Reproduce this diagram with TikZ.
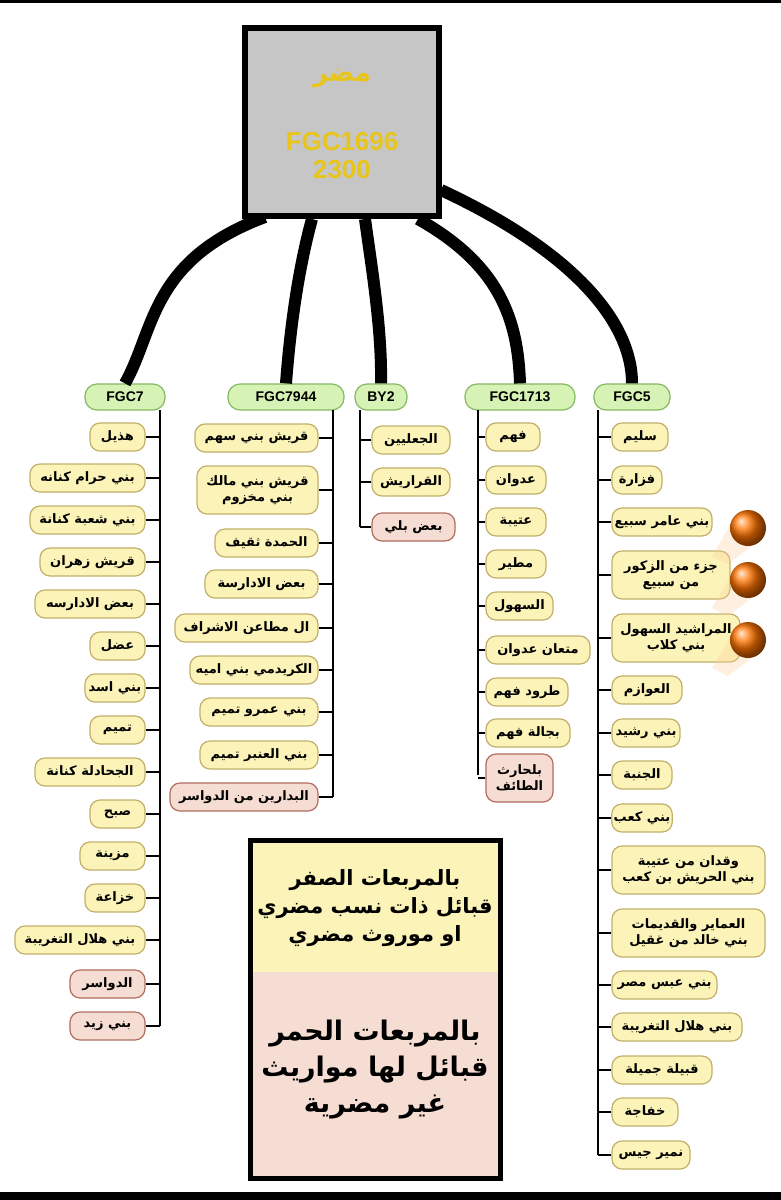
\documentclass[tikz,border=0pt]{standalone}
\usepackage{fontspec}
\newfontfamily\arabicfont[Script=Arabic]{DejaVu Sans}
\setmainfont{Liberation Sans}
\TeXXeTstate=1
\newcommand\ar[1]{{\arabicfont\bfseries\beginR #1\endR}}
\definecolor{yfill}{HTML}{FBF3B8}
\definecolor{ydraw}{HTML}{C2B06A}
\definecolor{rfill}{HTML}{F6DDD3}
\definecolor{rdraw}{HTML}{B06D60}
\definecolor{gfill}{HTML}{D6F2B4}
\definecolor{gdraw}{HTML}{86B864}
\definecolor{gold}{HTML}{E8C51A}
\newcommand\itm[6]{\node[#6, minimum width={(#3-#2)*0.5pt}] (#1) at ({(#2+#3)/2},#4) {#5};}
\begin{document}
\begin{tikzpicture}[x=0.5pt,y=-0.5pt,
  base/.style={rounded corners=5pt, line width=0.6pt, inner sep=1pt, minimum height=14pt, align=center, font=\fontsize{6.5}{8}\selectfont},
  yi/.style={base, fill=yfill, draw=ydraw},
  ri/.style={base, fill=rfill, draw=rdraw},
  yi2/.style={yi, minimum height=24pt},
  ri2/.style={ri, minimum height=24pt},
  hd/.style={rounded corners=6pt, fill=gfill, draw=gdraw, line width=0.6pt, minimum height=13pt, font=\fontsize{7}{8}\selectfont\bfseries},
  trunk/.style={line width=1.3pt},
  stub/.style={line width=1.1pt},
  thick6/.style={line width=6pt},
  goldtxt/.style={text=gold, align=center}]
\useasboundingbox (0,0) rectangle (781,1200);
\fill[white] (0,0) rectangle (781,1200);
\fill[black] (0,0) rectangle (781,3);
\fill[black] (0,1192) rectangle (781,1200);
% headers
\node[hd, minimum width=40pt] (h1) at (125,397) {FGC7};
\node[hd, minimum width=58pt] (h2) at (286,397) {FGC7944};
\node[hd, minimum width=26pt] (h3) at (381,397) {BY2};
\node[hd, minimum width=55pt] (h4) at (520,397) {FGC1713};
\node[hd, minimum width=38pt] (h5) at (632,397) {FGC5};
% thick curves
\draw[thick6] (265,217) coordinate (c1) .. controls (150,260) and (155,330) .. (h1.north);
\draw[thick6] (312,219) coordinate (c2) .. controls (298,270) and (290,330) .. (h2.north);
\draw[thick6] (365,219) coordinate (c3) .. controls (372,270) and (382,330) .. (h3.north);
\draw[thick6] (418,219) coordinate (c4) .. controls (500,265) and (518,320) .. (h4.north);
\draw[thick6] (441,190) coordinate (c5) .. controls (570,250) and (632,320) .. (h5.north);
% top box
\node[draw, line width=3pt, fill=gray!45, minimum width=97pt, minimum height=94pt] (top) at (342,122) {};
\node[goldtxt, font=\fontsize{13}{14}\selectfont] (tt) at (342,78) {\ar{مضر}};
\node[goldtxt, font=\fontsize{13}{14}\selectfont\bfseries] (tn) at (342,156) {FGC1696\\2300};
% trunks
\coordinate (t1) at (160,410); \coordinate (t2) at (333,410);
\coordinate (t3) at (360,410); \coordinate (t4) at (478,410); \coordinate (t5) at (598,410);
\draw[trunk] (t1) -- (160,1026);
\draw[trunk] (t2) -- (333,797);
\draw[trunk] (t3) -- (360,527);
\draw[trunk] (t4) -- (478,775);
\draw[trunk] (t5) -- (598,1155);
% FGC7
\itm{a1}{90}{145}{437}{\ar{هذيل}}{yi}
\itm{a2}{30}{145}{478}{\ar{بني حرام كنانه}}{yi}
\itm{a3}{30}{145}{520}{\ar{بني شعبة كنانة}}{yi}
\itm{a4}{40}{145}{562}{\ar{قريش زهران}}{yi}
\itm{a5}{35}{145}{604}{\ar{بعض الادارسه}}{yi}
\itm{a6}{90}{145}{646}{\ar{عضل}}{yi}
\itm{a7}{85}{145}{688}{\ar{بني اسد}}{yi}
\itm{a8}{90}{145}{730}{\ar{تميم}}{yi}
\itm{a9}{35}{145}{772}{\ar{الجحادلة كنانة}}{yi}
\itm{a10}{90}{145}{814}{\ar{صبح}}{yi}
\itm{a11}{80}{145}{856}{\ar{مزينة}}{yi}
\itm{a12}{85}{145}{898}{\ar{خزاعة}}{yi}
\itm{a13}{15}{145}{940}{\ar{بني هلال التغريبة}}{yi}
\itm{a14}{70}{145}{984}{\ar{الدواسر}}{ri}
\itm{a15}{70}{145}{1026}{\ar{بني زيد}}{ri}
\foreach \n in {1,...,15} \draw[stub] (a\n.east) -- (a\n.east -| t1);
% FGC7944
\itm{b1}{195}{318}{438}{\ar{قريش بني سهم}}{yi}
\itm{b2}{197}{318}{490}{\ar{قريش بني مالك}\\\ar{بني مخزوم}}{yi2}
\itm{b3}{215}{318}{543}{\ar{الحمدة ثقيف}}{yi}
\itm{b4}{205}{318}{584}{\ar{بعض الادارسة}}{yi}
\itm{b5}{175}{318}{628}{\ar{ال مطاعن الاشراف}}{yi}
\itm{b6}{190}{318}{670}{\ar{الكريدمي بني اميه}}{yi}
\itm{b7}{200}{318}{712}{\ar{بني عمرو تميم}}{yi}
\itm{b8}{200}{318}{755}{\ar{بني العنبر تميم}}{yi}
\itm{b9}{170}{318}{797}{\ar{البدارين من الدواسر}}{ri}
\foreach \n in {1,...,9} \draw[stub] (b\n.east) -- (b\n.east -| t2);
% BY2
\itm{c1}{372}{450}{440}{\ar{الجعليين}}{yi}
\itm{c2}{372}{450}{482}{\ar{القراريش}}{yi}
\itm{c3}{372}{455}{527}{\ar{بعض بلي}}{ri}
\foreach \n in {1,...,3} \draw[stub] (c\n.west) -- (c\n.west -| t3);
% FGC1713
\itm{d1}{486}{540}{437}{\ar{فهم}}{yi}
\itm{d2}{486}{546}{480}{\ar{عدوان}}{yi}
\itm{d3}{486}{546}{522}{\ar{عتيبة}}{yi}
\itm{d4}{486}{546}{564}{\ar{مطير}}{yi}
\itm{d5}{486}{553}{606}{\ar{السهول}}{yi}
\itm{d6}{486}{590}{650}{\ar{متعان عدوان}}{yi}
\itm{d7}{486}{568}{692}{\ar{طرود فهم}}{yi}
\itm{d8}{486}{570}{733}{\ar{بجالة فهم}}{yi}
\itm{d9}{486}{553}{778}{\ar{بلحارث}\\\ar{الطائف}}{ri2}
\foreach \n in {1,...,9} \draw[stub] (d\n.west) -- (d\n.west -| t4);
% FGC5
\itm{e1}{612}{668}{437}{\ar{سليم}}{yi}
\itm{e2}{612}{662}{480}{\ar{فزارة}}{yi}
\itm{e3}{612}{712}{522}{\ar{بني عامر سبيع}}{yi}
\itm{e4}{612}{730}{575}{\ar{جزء من الزكور}\\\ar{من سبيع}}{yi2}
\itm{e5}{612}{740}{638}{\ar{المراشيد السهول}\\\ar{بني كلاب}}{yi2}
\itm{e6}{612}{682}{690}{\ar{العوازم}}{yi}
\itm{e7}{612}{680}{733}{\ar{بني رشيد}}{yi}
\itm{e8}{612}{672}{775}{\ar{الجنبة}}{yi}
\itm{e9}{612}{672}{818}{\ar{بني كعب}}{yi}
\itm{e10}{612}{765}{870}{\ar{وقدان من عتيبة}\\\ar{بني الحريش بن كعب}}{yi2}
\itm{e11}{612}{765}{933}{\ar{العماير والقديمات}\\\ar{بني خالد من غقيل}}{yi2}
\itm{e12}{612}{717}{985}{\ar{بني عبس مصر}}{yi}
\itm{e13}{612}{742}{1027}{\ar{بني هلال التغريبة}}{yi}
\itm{e14}{612}{712}{1070}{\ar{قبيلة جميلة}}{yi}
\itm{e15}{612}{678}{1112}{\ar{خفاجة}}{yi}
\itm{e16}{612}{690}{1155}{\ar{نمير جيس}}{yi}
\foreach \n in {1,...,16} \draw[stub] (e\n.west) -- (e\n.west -| t5);
% orange balls
\foreach \yy in {528,580,640} {
  \fill[orange!40, opacity=0.3] (738,\yy-16) -- (712,\yy+28) -- (728,\yy+36) -- (760,\yy+12) -- cycle;
  \shade[ball color=orange!90!red] (748,\yy) circle (9pt);
}
% legend
\fill[yfill] (250,840) rectangle (500,972);
\fill[rfill] (250,972) rectangle (500,1178);
\draw[line width=2.5pt] (250,840) rectangle (500,1178);
\node[align=center, font=\fontsize{10.5}{14}\selectfont] (ly) at (375,908) {\ar{بالمربعات الصفر}\\\ar{قبائل ذات نسب مضري}\\\ar{او موروث مضري}};
\node[align=center, font=\fontsize{13.5}{18}\selectfont] (lr) at (375,1070) {\ar{بالمربعات الحمر}\\\ar{قبائل لها مواريث}\\\ar{غير مضرية}};
\end{tikzpicture}
\end{document}
